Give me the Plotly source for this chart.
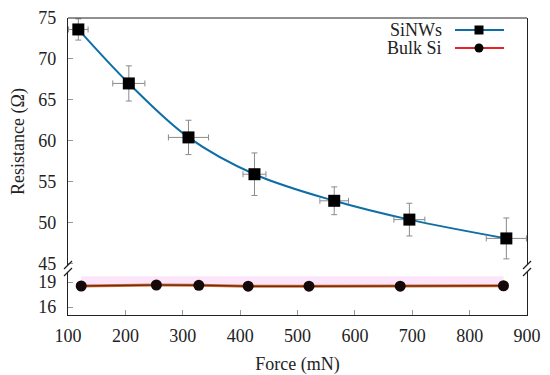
import plotly.graph_objects as go

# ---- data ----
sinw_force = [118, 206, 310, 425, 564, 695, 864]
sinw_res = [73.6, 67.0, 60.4, 55.9, 52.65, 50.35, 48.05]
sinw_res_err = [1.3, 2.15, 2.1, 2.6, 1.7, 2.0, 2.5]
sinw_force_err = [17, 28, 35, 20, 25, 27, 35]

bulk_force = [123, 254, 328, 414, 520, 679, 859]
bulk_res = [18.52, 18.64, 18.6, 18.5, 18.5, 18.5, 18.55]
bulk_band_upper = [19.7, 19.7, 19.7, 19.7, 19.7, 19.7, 19.7]

top_ticks = [45, 50, 55, 60, 65, 70, 75]
bottom_ticks = [16, 19]
x_ticks = [100, 200, 300, 400, 500, 600, 700, 800, 900]

BLUE = "#0f6ea6"
RED_LEG = "#e8202a"
FONT = "Liberation Serif"
FS = 18

fig = go.Figure()

# faint band above bulk line
fig.add_trace(go.Scatter(
    x=bulk_force + bulk_force[::-1], y=bulk_band_upper + bulk_res[::-1],
    xaxis="x", yaxis="y2", fill="toself", fillcolor="rgba(251,222,248,0.8)",
    line=dict(width=0), mode="lines", hoverinfo="skip", showlegend=False))

fig.add_trace(go.Scatter(
    x=sinw_force, y=sinw_res, xaxis="x", yaxis="y", mode="lines",
    line=dict(color=BLUE, width=2, shape="spline", smoothing=1.0),
    showlegend=False))
fig.add_trace(go.Scatter(
    x=sinw_force, y=sinw_res, xaxis="x", yaxis="y", mode="markers",
    marker=dict(symbol="square", size=12, color="black"),
    error_y=dict(type="data", array=sinw_res_err, color="#8a8a8a", thickness=1, width=3),
    error_x=dict(type="data", array=sinw_force_err, color="#8a8a8a", thickness=1, width=3),
    showlegend=False))

fig.add_trace(go.Scatter(
    x=bulk_force, y=bulk_res, xaxis="x", yaxis="y2", mode="lines",
    line=dict(color="#d8743a", width=3), hoverinfo="skip", showlegend=False))
fig.add_trace(go.Scatter(
    x=bulk_force, y=bulk_res, xaxis="x", yaxis="y2", mode="lines+markers",
    line=dict(color="#6e2e14", width=1.5),
    marker=dict(symbol="circle", size=11, color="#140808"),
    showlegend=False))

axis_common = dict(showline=True, linecolor="#222", linewidth=1.2, ticks="inside",
                   ticklen=5, tickcolor="#999", showgrid=False, zeroline=False,
                   automargin=False, ticklabeloverflow="allow",
                   tickfont=dict(family=FONT, size=FS, color="#222"))

# page body has an 8px margin, so figure is 542x367 and offset by 8px
# plot area in the page: x 68..527, y 18..315
PT, PB, PL, PR = 18, 315, 68, 527
PH, PW = PB - PT, PR - PL
fig.update_layout(
    width=542, height=367,
    margin=dict(l=PL - 8, r=550 - PR, t=PT - 8, b=375 - PB),
    plot_bgcolor="white", paper_bgcolor="white",
    showlegend=False,
    xaxis=dict(domain=[0, 1], anchor="y2", range=[100, 900], tickvals=x_ticks,
               ticklabelstandoff=4,
               title=dict(text="Force (mN)", font=dict(family=FONT, size=FS, color="#222"), standoff=12),
               **axis_common),
    yaxis=dict(domain=[(PB - 265) / PH, 1], anchor="x", range=[44.8, 75.0], tickvals=top_ticks,
               mirror=True, ticklabelstandoff=7,
               title=dict(text="Resistance (Ω)", font=dict(family=FONT, size=FS, color="#222"), standoff=9),
               **axis_common),
    yaxis2=dict(domain=[0, (PB - 272) / PH], anchor="x", range=[15.04, 20.2], tickvals=bottom_ticks,
                mirror=True, ticklabelstandoff=7, **axis_common),
)

yb_top = (PB - 265) / PH
yb_bot = (PB - 272) / PH
shapes = []
# top frame line
shapes.append(dict(type="line", xref="paper", yref="paper", x0=0, x1=1, y0=1, y1=1,
                   line=dict(color="#222", width=1.2)))
# break marks
for xb in (0, 1):
    for yb in (yb_top, yb_bot):
        shapes.append(dict(type="line", xref="paper", yref="paper",
                           x0=xb - 4 / PW, x1=xb + 4 / PW, y0=yb - 4 / PH, y1=yb + 4 / PH,
                           line=dict(color="#222", width=1.2)))
# legend glyphs
lx0, lx1, lxm = (455 - PL) / PW, (504 - PL) / PW, (479 - PL) / PW
ly1 = (PB - 30) / PH
ly2 = (PB - 48) / PH
shapes.append(dict(type="line", xref="paper", yref="paper", x0=lx0, x1=lx1, y0=ly1, y1=ly1,
                   line=dict(color=BLUE, width=2)))
shapes.append(dict(type="rect", xref="paper", yref="paper",
                   x0=lxm - 4.5 / PW, x1=lxm + 4.5 / PW, y0=ly1 - 4.5 / PH, y1=ly1 + 4.5 / PH,
                   fillcolor="black", line=dict(width=0)))
shapes.append(dict(type="line", xref="paper", yref="paper", x0=lx0, x1=lx1, y0=ly2, y1=ly2,
                   line=dict(color=RED_LEG, width=2)))
shapes.append(dict(type="circle", xref="paper", yref="paper",
                   x0=lxm - 4.5 / PW, x1=lxm + 4.5 / PW, y0=ly2 - 4.5 / PH, y1=ly2 + 4.5 / PH,
                   fillcolor="black", line=dict(width=0)))
fig.update_layout(shapes=shapes)

fig.add_annotation(xref="paper", yref="paper", x=(444 - PL) / PW, y=ly1, text="SiNWs",
                   showarrow=False, xanchor="right", yanchor="middle",
                   font=dict(family=FONT, size=FS, color="#222"))
fig.add_annotation(xref="paper", yref="paper", x=(444 - PL) / PW, y=ly2, text="Bulk Si",
                   showarrow=False, xanchor="right", yanchor="middle",
                   font=dict(family=FONT, size=FS, color="#222"))

fig.write_html("out.html")
